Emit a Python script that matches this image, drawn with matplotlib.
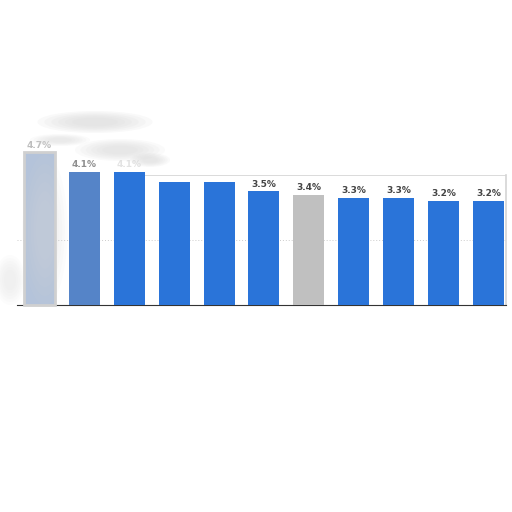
import numpy as np
import matplotlib
matplotlib.use("Agg")
import matplotlib.pyplot as plt
from matplotlib.patches import Ellipse

values = [4.7, 4.1, 4.1, 3.8, 3.8, 3.5, 3.4, 3.3, 3.3, 3.2, 3.2]
labels = ["4.7%", "4.1%", "4.1%", "3.8%", "3.8%", "3.5%", "3.4%", "3.3%", "3.3%", "3.2%", "3.2%"]
colors = ["#b4c3da", "#5584c8", "#2a74d9", "#2a74d9", "#2a74d9", "#2a74d9",
          "#c0c0c0", "#2a74d9", "#2a74d9", "#2a74d9", "#2a74d9"]
label_alpha = [0.35, 0.6, 0.15, 0.0, 0.0, 1, 1, 1, 1, 1, 1]

fig = plt.figure(figsize=(5.12, 5.12), dpi=100)
ax = fig.add_axes([17/512, 1-305/512, (506-17)/512, 130/512])

x = np.arange(len(values))
bars = ax.bar(x, values, width=0.69, color=colors, clip_on=False, zorder=3)
bars[0].set_edgecolor("#d0d0d0")
bars[0].set_linewidth(2)

for i, (v, lab) in enumerate(zip(values, labels)):
    if label_alpha[i] > 0:
        ax.text(i, v + 0.22, lab, ha="center", va="center", fontsize=6.5,
                fontweight="bold", color="#444444", alpha=label_alpha[i], clip_on=False)

ax.set_xlim(-0.5, 10.39)
ax.set_ylim(0, 4)
ax.axhline(2, color="#cccccc", lw=0.7, ls=(0, (1, 2)), zorder=1)
ax.axhline(4, xmin=0.2, color="#d4d4d4", lw=1.2, zorder=1)
ax.set_xticks([])
ax.set_yticks([])
ax.spines["left"].set_visible(False)
ax.spines["top"].set_visible(False)
ax.spines["right"].set_color("#d4d4d4")
ax.spines["bottom"].set_color("#333333")
ax.spines["right"].set_linewidth(1.2)

# soft smoky haze over the left part
for cx, cy, w, h, a in [(95, 122, 115, 22, 0.6), (60, 140, 60, 12, 0.4),
                        (120, 150, 90, 22, 0.5), (150, 160, 40, 14, 0.5),
                        (45, 230, 45, 150, 0.3), (10, 280, 30, 50, 0.25)]:
    for k in np.linspace(1.0, 0.4, 6):
        e = Ellipse((cx/512, 1-cy/512), w*k/512, h*k/512, transform=fig.transFigure,
                    color="#d8d8d8", alpha=a/4, lw=0, zorder=5)
        fig.patches.append(e)

fig.savefig("out.png", dpi=100)
